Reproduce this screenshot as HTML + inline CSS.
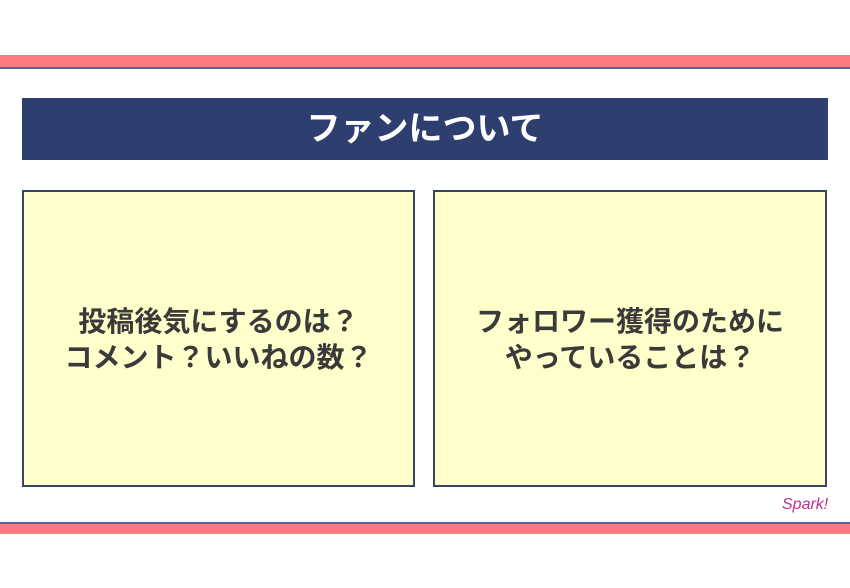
<!DOCTYPE html>
<html><head><meta charset="utf-8"><style>
body{margin:0;width:850px;height:588px;background:#fff;position:relative;overflow:hidden;font-family:"Liberation Sans","Noto Sans CJK JP",sans-serif}
div{position:absolute;box-sizing:border-box}
.box{background:#ffffcc;border:2px solid #3a4560;top:190px;height:297px;display:flex;align-items:center;justify-content:center;text-align:center;font-weight:bold;font-size:28px;line-height:36px;color:#3a3a3a}
</style></head><body>
<div style="left:0;top:55px;width:850px;height:12px;background:#ff7a7e"></div>
<div style="left:0;top:67px;width:850px;height:2px;background:#5a6290"></div>
<div style="left:22px;top:98px;width:806px;height:62px;background:#2e3e6e;color:#fff;font-weight:bold;font-size:34px;line-height:62px;text-align:center">ファンについて</div>
<div class="box" style="left:22px;width:393px;padding-top:2px">投稿後気にするのは？<br>コメント？いいねの数？</div>
<div class="box" style="left:433px;width:394px;padding-top:2px">フォロワー獲得のために<br>やっていることは？</div>
<div style="left:782px;top:496px;font-size:16px;color:#c0308a;font-style:italic">Spark!</div>
<div style="left:0;top:522px;width:850px;height:2px;background:#5a6290"></div>
<div style="left:0;top:524px;width:850px;height:10px;background:#ff7a7e"></div>
</body></html>
